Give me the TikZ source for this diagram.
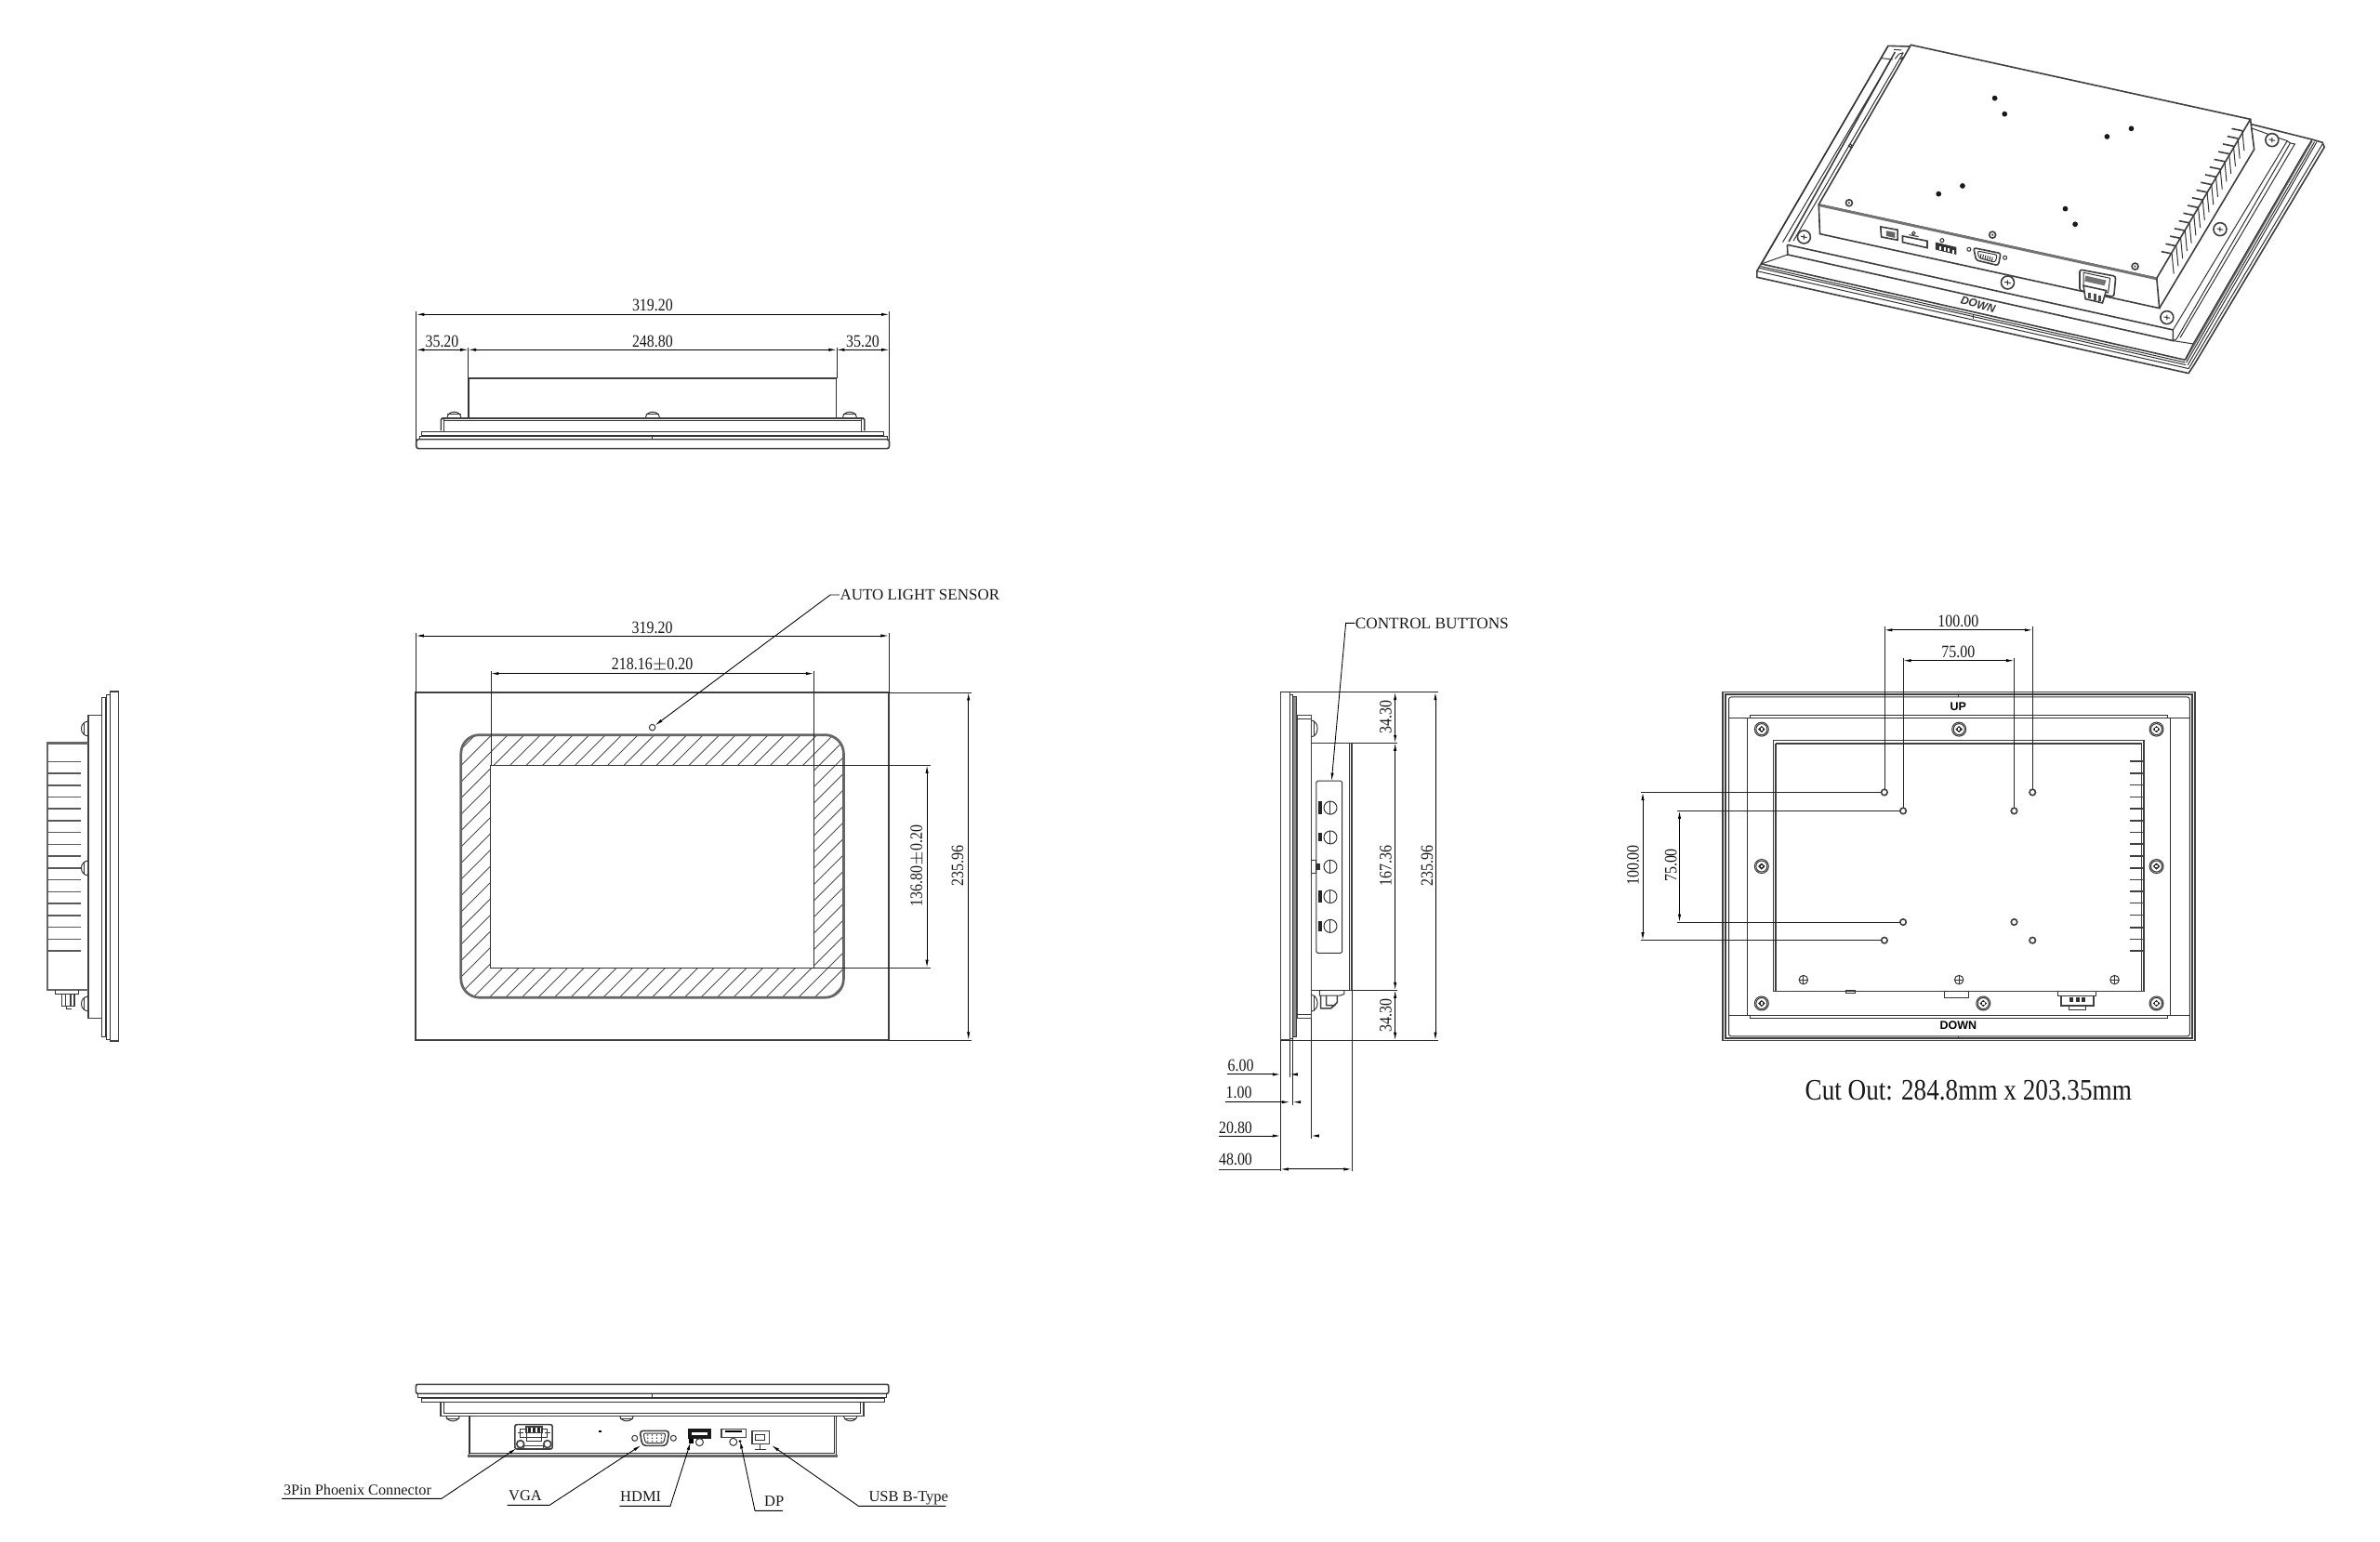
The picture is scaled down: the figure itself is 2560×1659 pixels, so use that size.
\documentclass[tikz,border=0pt]{standalone}
\usepackage{fontspec}
\usetikzlibrary{arrows.meta}
\setmainfont{Liberation Serif}
\newfontfamily\cond[FakeStretch=0.85]{Liberation Serif}
\newfontfamily\hvb{Liberation Sans}
\tikzset{
 view/.style n args={4}{shift={(#1,#2)},x=#3pt,y=-#4pt},
 ln/.style={line width=.4pt,draw=black!80},
 md/.style={line width=.65pt,draw=black!75},
 hv/.style={line width=1.1pt,draw=black!60},
 fin/.style={line width=.6pt,draw=black!65},
 dimline/.style={line width=.35pt,draw=black,{Latex[length=3.4pt,width=1.3pt]}-{Latex[length=3.4pt,width=1.3pt]}},
 onearrow/.style={line width=.35pt,draw=black,-{Latex[length=3.4pt,width=1.3pt]}},
 ext/.style={line width=.3pt,draw=black!85},
 dimtxt/.style={font=\cond\fontsize{7.5}{8}\selectfont,inner sep=0pt,text=black!90},
 lbl/.style={font=\fontsize{6.8}{8}\selectfont,inner sep=0pt,text=black!90},
 plbl/.style={font=\fontsize{6.6}{8}\selectfont,inner sep=0pt,text=black!90},
 leader/.style={line width=.35pt,draw=black,-{Latex[length=3.4pt,width=1.3pt]}},
 hatchline/.style={line width=.35pt,draw=black!70},
}
\begin{document}
\begin{tikzpicture}[x=.4pt,y=-.4pt]
\useasboundingbox (0,0) rectangle (2560,1659);
% ---------------- TOP VIEW
\begin{scope}[view={420}{300}{.148}{.1333}]
 \draw[ext] (75,105)--(75,540) (1450,105)--(1450,540) (226,222)--(226,320) (1297,222)--(1297,320);
 \draw[dimline] (75,115)--(1450,115);
 \draw[dimline] (75,229)--(226,229);
 \draw[dimline] (226,229)--(1297,229);
 \draw[dimline] (1297,229)--(1450,229);
 \node[dimtxt] (t319) at (762,85) {319.20};
 \node[dimtxt] (t248) at (762,202) {248.80};
 \node[dimtxt] (t35a) at (150,202) {35.20};
 \node[dimtxt] (t35b) at (1373,202) {35.20};
 \draw[md] (228,447)--(228,322)--(1297,322);
 \draw[ln] (1297,322)--(1297,447);
 \draw[hv,draw=black!80,line width=.7pt] (228,447)--(228,322);
 \draw[md] (147,490)--(147,458) [rounded corners=.6pt] --(147,450)--(1378,450)--(1378,490);
 \draw[ln] (155,458)--(1370,458) (155,450)--(155,493) (1370,450)--(1370,493);
 \draw[ln] (90,493) rectangle (1435,506);
 \draw[ln] (85,518)--(85,510)--(1445,510)--(1445,518);
 \draw[md,rounded corners=1pt] (75,518) rectangle (1450,548);
 \draw[ln] (762,510)--(762,518);
 \foreach \sx in {185,762,1335}{
  \draw[ln] (\sx-20,447) .. controls (\sx-18,424) and (\sx+18,424) .. (\sx+20,447);
  \draw[ln] (\sx-20,438)--(\sx+20,438);}
\end{scope}
% ---------------- FRONT VIEW
\begin{scope}
 \clip[rounded corners=8pt] (496,791) rectangle (908,1073);
 \foreach \c in {62,79.5,...,1000}{\draw[hatchline] (\c,1100)--(\c+340,760);}
\end{scope}
\begin{scope}[view={420}{620}{.1733}{.1333}]
 \fill[white] (249,610) rectangle (1051,1264);
 \draw[hv,rounded corners=8pt] (175,512) rectangle (1125,1360);
 \draw[md] (63,375) rectangle (1237,1497);
 \draw[ln] (249,610) rectangle (1051,1264);
 \draw[ext] (63,182)--(63,375) (1237,182)--(1237,375) (249,305)--(249,610) (1051,305)--(1051,610)
   (1237,375)--(1442,375) (1237,1497)--(1442,1497) (1051,610)--(1340,610) (1051,1264)--(1340,1264);
 \draw[dimline] (63,192)--(1237,192);
 \draw[dimline] (249,314)--(1051,314);
 \draw[dimline] (1435,375)--(1435,1497);
 \draw[dimline] (1332,610)--(1332,1264);
 \node[dimtxt] (f319) at (650,165) {319.20};
 \node[dimtxt] (f218) at (650,285) {218.16$\pm$0.20};
 \node[dimtxt,rotate=90] (f235) at (1408,935) {235.96};
 \node[dimtxt,rotate=90] (f136) at (1308,935) {136.80$\pm$0.20};
 \node[ln,draw,circle,minimum size=2.6pt,inner sep=0pt] (sensor) at (650,488) {};
 \node[lbl,anchor=west] (autol) at (1115,60) {AUTO LIGHT SENSOR};
 \coordinate (aelbow) at (1092,60);
 \draw[leader] (autol.west)--(aelbow)--(sensor);
\end{scope}
% ---------------- LEFT SIDE VIEW
\begin{scope}[view={30}{730}{.1333}{.1333}]
 \draw[md] (265,42) rectangle (293,1170);
 \draw[ln] (255,52) rectangle (265,1165);
 \draw[ln] (238,60) rectangle (250,1157);
 \draw[md] (195,118) rectangle (238,1097);
 \draw[hv] (195,208)--(63,208)--(63,1005)--(195,1005);
 \foreach \n in {0,...,16}{\draw[fin] (63,268+38.2*\n)--(170,268+38.2*\n);}
 \foreach \sy in {162,612,1050}{
  \draw[ln] (195,\sy-24) .. controls (165,\sy-22) and (165,\sy+22) .. (195,\sy+24);
  \draw[ln] (182,\sy-20)--(182,\sy+20);}
 \draw[ln] (90,1005)--(90,1020)--(165,1020)--(165,1005);
 \draw[md] (110,1020)--(110,1058)--(150,1058)--(150,1020) (122,1020)--(122,1058) (138,1020)--(138,1058);
 \draw[ln] (125,1058)--(125,1068)--(140,1068);
\end{scope}
% ---------------- RIGHT SIDE VIEW
\begin{scope}[view={1300}{650}{.1333}{.1632}]
 \draw[md] (232,232) rectangle (262,1150);
 \draw[ln] (262,238) rectangle (272,1145);
 \fill[black!45] (272,245) rectangle (285,1140);
 \draw[ln] (272,245) rectangle (285,1140);
 \draw[md] (285,293) rectangle (331,1092);
 \draw[ln] (285,303)--(331,303) (285,1082)--(331,1082);
 \draw[ln] (331,366)--(462,366) (331,1018)--(462,1018);
 \draw[md] (462,366)--(462,1018);
 \draw[ln] (456,366)--(456,1018);
 \draw[ln,rounded corners=.6pt] (348,466) rectangle (431,920);
 \foreach \by in {537,615,692,771,849}{
  \draw[ln] (393,\by) circle[radius=2.8pt];
  \draw[ln] (393,\by-18)--(393,\by+18);}
 \foreach \by/\bh in {537/17,615/11,771/16,849/13}{\fill[black!85] (353,\by-\bh) rectangle (365,\by+\bh);}
 \draw[ln] (333,675) rectangle (346,710);
 \fill[black!80] (347,685) rectangle (360,700);
 \foreach \sy in {328,1052}{
  \draw[ln] (331,\sy-22) .. controls (358,\sy-20) and (358,\sy+20) .. (331,\sy+22);
  \draw[ln] (342,\sy-18)--(342,\sy+18);}
 \draw[ln] (358,1018)--(358,1032)--(425,1032)--(438,1028)--(438,1018);
 \draw[md] (362,1032)--(362,1066)--(395,1066)--(415,1050)--(415,1032) (380,1032)--(380,1058)--(410,1058);
 \draw[ext] (232,232)--(742,232) (462,366)--(608,366) (462,1018)--(608,1018) (232,1150)--(742,1150)
   (232,1150)--(232,1496) (262,1150)--(262,1248) (272,1145)--(272,1322) (331,1092)--(331,1410) (462,1018)--(462,1496);
 \draw[dimline] (602,232)--(602,366);
 \draw[dimline] (602,366)--(602,1018);
 \draw[dimline] (602,1018)--(602,1150);
 \draw[dimline] (732,232)--(732,1150);
 \node[dimtxt,rotate=90] (r34a) at (572,297) {34.30};
 \node[dimtxt,rotate=90] (r167) at (572,690) {167.36};
 \node[dimtxt,rotate=90] (r34b) at (572,1085) {34.30};
 \node[dimtxt,rotate=90] (r235) at (705,690) {235.96};
 \node[dimtxt] (r6) at (104,1217) {6.00};
 \node[dimtxt] (r1) at (98,1288) {1.00};
 \node[dimtxt] (r20) at (87,1380) {20.80};
 \node[dimtxt] (r48) at (87,1465) {48.00};
 \draw[onearrow] (60,1240)--(232,1240);
 \draw[onearrow] (285,1240)--(262,1240);
 \draw[onearrow] (55,1313)--(262,1313);
 \draw[onearrow] (295,1313)--(272,1313);
 \draw[onearrow] (32,1402)--(232,1402);
 \draw[onearrow] (355,1402)--(331,1402);
 \draw[dimline] (232,1490)--(462,1490);
 \draw[ext] (32,1490)--(232,1490);
 \node[lbl,anchor=west,font=\fontsize{6.9}{8}\selectfont] (ctl) at (472,50) {CONTROL BUTTONS};
 \coordinate (celbow) at (443,50);
 \coordinate (cplate) at (397,466);
 \draw[leader] (ctl.west)--(celbow)--(cplate);
\end{scope}
% ---------------- BACK VIEW
\begin{scope}[view={1740.5}{650}{.1682}{.1428}]
 \draw[md] (268,265) rectangle (1475,1315);
 \draw[md] (275,272) rectangle (1468,1308);
 \draw[ln,rounded corners=1pt] (283,280) rectangle (1462,1302);
 \draw[ln] (870,272)--(870,280) (870,1302)--(870,1308);
 \draw[ln] (283,342)--(337,342)--(337,335)--(1405,335)--(1405,342)--(1462,342);
 \draw[ln] (283,1240)--(337,1240)--(337,1248)--(1405,1248)--(1405,1240)--(1462,1240);
 \draw[ln] (330,342) rectangle (1412,1240);
 \draw[md] (397,410) rectangle (1345,1167);
 \draw[md] (403,420)--(1339,420)--(1339,1167) (403,420)--(403,1167);
 \node[font=\hvb\bfseries\fontsize{5}{6}\selectfont,inner sep=0pt] (bup) at (870,310) {UP};
 \node[font=\hvb\bfseries\fontsize{5}{6}\selectfont,inner sep=0pt] (bdown) at (870,1270) {DOWN};
 \foreach \sx/\sy in {367/377,872/377,1377/377,367/790,1377/790,367/1203,934/1203,1377/1203}{
  \draw[ln] (\sx,\sy) circle[radius=3pt];
  \draw[ln] (\sx,\sy) circle[radius=2.4pt];
  \fill[black!85] (\sx-9,\sy)--(\sx,\sy-10)--(\sx+9,\sy)--(\sx,\sy+10)--cycle;
  \fill[white] (\sx-3,\sy-3.5) rectangle (\sx+3,\sy+3.5);}
 \foreach \sx in {474,872,1270}{
  \draw[ln] (\sx,1132) circle[radius=1.9pt];
  \draw[ln] (\sx-10,1132)--(\sx+10,1132) (\sx,1120)--(\sx,1144);}
 \foreach \fy in {473,509,545,581,617,653,688,723,759,795,830,866,901,937,974,1010,1045}{\draw[md] (1308,\fy)--(1342,\fy);}
 \draw[ln] (582,1163) rectangle (606,1172);
 \draw[ln] (835,1167) rectangle (897,1185);
 \draw[ln] (1125,1167)--(1125,1180)--(1223,1180)--(1223,1167);
 \draw[md] (1133,1180)--(1133,1210)--(1217,1210)--(1217,1180);
 \draw[ln] (1153,1210)--(1153,1222)--(1197,1222)--(1197,1210);
 \foreach \px in {1160,1175,1190}{\fill[black!80] (\px-5,1184) rectangle (\px+5,1198);}
 \draw[ext] (681,68)--(681,556) (1060,68)--(1060,556) (729,162)--(729,612) (1013,162)--(1013,612)
   (58,567)--(672,567) (58,1013)--(672,1013) (152,623)--(720,623) (152,958)--(720,958);
 \draw[dimline] (681,78)--(1060,78);
 \draw[dimline] (729,170)--(1013,170);
 \draw[dimline] (63,567)--(63,1013);
 \draw[dimline] (157,623)--(157,958);
 \foreach \hx/\hy in {681/567,1060/567,729/623,1013/623,729/958,1013/958,681/1013,1060/1013}{
  \draw[md,fill=white] (\hx,\hy) circle[radius=1.3pt];}
 \node[dimtxt] (b100) at (870,52) {100.00};
 \node[dimtxt] (b75) at (870,143) {75.00};
 \node[dimtxt,rotate=90] (b100v) at (38,787) {100.00};
 \node[dimtxt,rotate=90] (b75v) at (135,787) {75.00};
 \node[font=\cond\fontsize{12.8}{14}\selectfont,inner sep=0pt,text=black!90] (cutout) at (896,1465) {Cut Out: 284.8mm x 203.35mm};
\end{scope}
% ---------------- BOTTOM VIEW
\begin{scope}[view={290}{1480}{.1937}{.1333}]
 \draw[md,rounded corners=.8pt] (325,28) rectangle (1375,58);
 \draw[ln] (330,58)--(330,70)--(1370,70)--(1370,58);
 \draw[ln] (850,58)--(850,70);
 \draw[ln] (337,74) rectangle (1365,85);
 \draw[md] (380,85)--(380,130)--(1320,130)--(1320,85);
 \draw[ln] (388,85)--(388,122)--(1312,122)--(1312,85);
 \foreach \sx in {407,793,1290}{
  \draw[ln] (\sx-15,130) .. controls (\sx-13,152) and (\sx+13,152) .. (\sx+15,130);
  \draw[ln] (\sx-14,140)--(\sx+14,140);}
 \draw[ln] (442,130)--(442,258) (1258,130)--(1258,258);
 \draw[hv] (442,255)--(442,260)--(1258,260)--(1258,255);
 \draw[ln] (446,130)--(446,252)--(1254,252)--(1254,130);
 % phoenix
 \draw[md,rounded corners=.8pt] (545,158) rectangle (628,237);
 \draw[md] (570,165) rectangle (605,185);
 \foreach \px in {578,588,598}{\fill[black!85] (\px-3,168) rectangle (\px+3,182);}
 \draw[ln] (557,172) rectangle (570,198) (605,172) rectangle (617,198);
 \foreach \px in {557,617}{\draw[md] (\px,221) circle[radius=1.6pt];\draw[ln] (\px-6,185)--(\px+6,185) (\px,178)--(\px,192);}
 \draw[ln] (570,200)--(605,200)--(605,212)--(570,212)--cycle;
 \draw[md] (565,226) rectangle (608,235);
 \fill[black] (730,177) rectangle (738,182);
 % VGA
 \draw[md,rounded corners=1.5pt] (822,178)--(888,178)--(882,226)--(828,226)--cycle;
 \draw[ln,rounded corners=1pt] (830,186)--(880,186)--(875,218)--(835,218)--cycle;
 \foreach \dy in {192,202,212}{\foreach \dx in {840,850,860,870}{\fill[black!70] (\dx,\dy) circle[radius=.35pt];}}
 \draw[ln] (811,202) circle[radius=1.2pt] (897,202) circle[radius=1.2pt];
 % HDMI
 \fill[black!90] (930,172) rectangle (980,203);
 \fill[white] (938,182) rectangle (972,192);
 \draw[ln] (955,215) circle[radius=1.6pt];
 \fill[black] (932,205) rectangle (942,220);
 % DP
 \draw[md] (1003,172) rectangle (1058,200);
 \fill[black] (1012,178)--(1050,178)--(1050,183)--(1012,183)--cycle;
 \draw[ln] (1030,214) circle[radius=1.6pt];
 \fill[black] (1045,212) circle[radius=.6pt];
 % USB
 \draw[md] (1072,178) rectangle (1110,220);
 \draw[ln] (1080,190) rectangle (1100,208);
 \draw[ln] (1090,222)--(1090,238) (1078,238)--(1102,238);
 % labels
 \node[plbl,anchor=base west,font=\fontsize{6.5}{8}\selectfont] (p3) at (30,385) {3Pin Phoenix Connector};
 \node[plbl,anchor=base west] (pvga) at (530,405) {VGA};
 \node[plbl,anchor=base west] (phdmi) at (778,407) {HDMI};
 \node[plbl,anchor=base west] (pdp) at (1098,422) {DP};
 \node[plbl,anchor=base west] (pusb) at (1330,408) {USB B-Type};
 \coordinate (u3a) at (27,397);\coordinate (u3b) at (382,397);\coordinate (c3) at (548,235);
 \coordinate (uva) at (528,418);\coordinate (uvb) at (622,418);\coordinate (cv) at (825,225);
 \coordinate (uha) at (777,421);\coordinate (uhb) at (890,421);\coordinate (ch) at (935,215);
 \coordinate (uda) at (1140,436);\coordinate (udb) at (1078,436);\coordinate (cd) at (1045,210);
 \coordinate (uua) at (1502,421);\coordinate (uub) at (1308,421);\coordinate (cu) at (1115,225);
 \draw[leader] (u3a)--(u3b)--(c3);
 \draw[leader] (uva)--(uvb)--(cv);
 \draw[leader] (uha)--(uhb)--(ch);
 \draw[leader] (uda)--(udb)--(cd);
 \draw[leader] (uua)--(uub)--(cu);
\end{scope}
% ---------------- ISOMETRIC VIEW
\begin{scope}[view={1880}{30}{.1632}{.1333}]
 % panel outline
 \draw[md] (428,60)--(370,58)--(24,785)--(24,805)--(1162,1115)--(1178,1085)--(1520,385)--(1515,370)--(1487,360)--(1324,310);
 \draw[ln] (24,785)--(1162,1100);
 \draw[md] (36,762)--(1153,1072);
 \draw[ln] (34,770)--(1153,1080) (30,775)--(1155,1088);
 \draw[ln] (595,925)--(595,940);
 \draw[hv,line width=.8pt] (1153,1072)--(1487,365);
 \draw[ln] (1162,1100)--(1515,375) (1160,1088)--(1500,368) (1156,1080)--(1494,368);
 \draw[ln] (1174,1020)--(1153,1072);
 % left side of the flange
 \draw[ln] (370,58)--(36,762);
 \draw[ln] (353,98)--(382,102);
 \draw[ln] (385,70)--(405,72);
 \draw[md] (388,78)--(108,690);
 \draw[ln] (375,108)--(92,692);
 \draw[ln] (410,80)--(120,688) (410,80)--(398,85)--(388,100);
 \draw[ln] (408,100) circle[radius=.7pt] (270,380) circle[radius=.7pt];
 % bracket
 \draw[md] (104,700)--(105,732)--(1121,1010)--(1121,975);
 \draw[md] (104,700)--(1121,975);
 \draw[ln] (1121,1010)--(1174,1020);
 \draw[ln] (105,732)--(36,762);
 \draw[ln] (1121,975)--(1422,365)--(1324,322);
 \draw[ln] (1130,1005)--(1430,372)--(1422,365) (1121,1010)--(1130,1005);
 \draw[ln] (1140,1000)--(1442,375)--(1430,372);
 \draw[ln] (1174,1020)--(1470,395)--(1487,362);
 % box
 \fill[white] (430,55)--(1325,295)--(1335,385)--(1085,905)--(190,665)--(187,570)--cycle;
 \draw[md] (430,55)--(1325,295)--(1078,808)--(187,570)--cycle;
 \draw[hv,draw=black!55] (187,572)--(1078,810);
 \draw[md] (187,570)--(190,665)--(1085,905)--(1078,808);
 \draw[md] (1325,295)--(1335,392)--(1085,905);
 \foreach \n in {0,...,16}{
  \pgfmathsetmacro{\fx}{1090+11.6*\n}\pgfmathsetmacro{\fyy}{722-24.8*\n}
  \draw[md] (\fx,\fyy)--(\fx+28,\fyy+7);
  \draw[ln] (\fx+28,\fyy+7)--(\fx+33,\fyy+72);}
 % holes
 \foreach \hx/\hy in {651/227,677/278,947/351,1011/325,566/510,503/536,837/584,863/634}{\fill[black!90] (\hx,\hy) circle[radius=1.15pt];}
 % screws
 \foreach \sx/\sy in {267/565,645/668,1021/770}{\draw[md] (\sx,\sy) circle[radius=1.4pt];\fill[black!70] (\sx,\sy) circle[radius=.5pt];}
 \foreach \sx/\sy in {148/675,685/822,1105/935,1245/650,1382/362}{\draw[md,fill=white] (\sx,\sy) circle[radius=2.8pt];\draw[ln] (\sx-8,\sy-2) --(\sx+8,\sy+2) (\sx,\sy-8)--(\sx,\sy+8);}
 % connectors
 \draw[md] (350,642)--(395,652)--(395,685)--(352,675)--cycle;
 \fill[black!60] (365,655)--(388,660)--(388,678)--(365,672)--cycle;
 \draw[md] (408,672)--(473,688)--(473,710)--(408,692)--cycle;
 \draw[ln] (425,668)--(450,674) (437,663) circle[radius=.7pt];
 \fill[black!80] (495,692)--(550,708)--(550,732)--(495,716)--cycle;
 \foreach \dn in {0,...,3}{\fill[white] (505+11*\dn,704+4*\dn) rectangle (510+11*\dn,716+4*\dn);}
 \draw[ln] (512,686) circle[radius=.8pt];
 \draw[md,rounded corners=1pt] (595,710)--(667,728)--(660,767)--(602,750)--cycle;
 \draw[ln,rounded corners=1pt] (605,720)--(658,733)--(652,757)--(610,743)--cycle;
 \foreach \dn in {0,...,5}{\draw[ln] (615+6*\dn,730+2*\dn)--(613+6*\dn,745+2*\dn);}
 \draw[ln] (583,715) circle[radius=.8pt] (678,742) circle[radius=.8pt];
 \draw[md,rounded corners=1pt] (875,780)--(970,802)--(965,868)--(875,848)--cycle;
 \draw[ln] (885,790)--(955,808)--(950,855)--(885,835)--cycle;
 \fill[black!55] (890,800)--(945,815)--(940,832)--(888,818)--cycle;
 \draw[md,fill=white] (885,832)--(945,848)--(935,888)--(890,875)--cycle;
 \foreach \dn in {0,1,2}{\fill[black!70] (897+14*\dn,855+4*\dn) rectangle (904+14*\dn,874+4*\dn);}
 \node[font=\hvb\bfseries\itshape\fontsize{4.8}{6}\selectfont,rotate=-15,inner sep=0pt,text=black!80] (idown) at (607,893) {DOWN};
\end{scope}
\end{tikzpicture}
\end{document}
